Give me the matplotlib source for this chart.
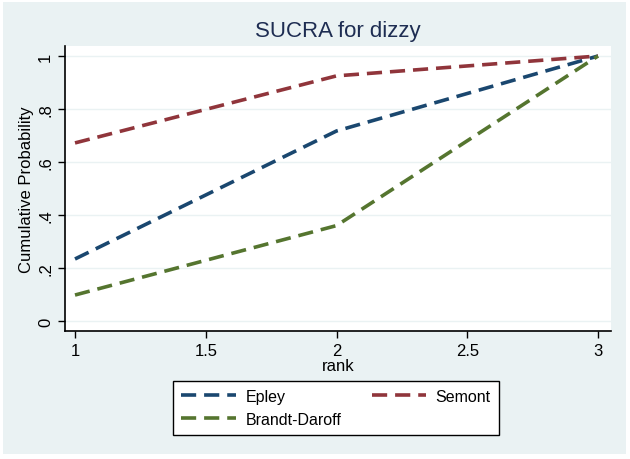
import matplotlib.pyplot as plt
from matplotlib.patches import Rectangle

ranks = [1, 2, 3]
epley = [0.234, 0.717, 1.0]
semont = [0.672, 0.925, 1.0]
brandt_daroff = [0.098, 0.360, 1.0]

y_ticks = [0, 0.2, 0.4, 0.6, 0.8, 1.0]
y_tick_labels = ["0", ".2", ".4", ".6", ".8", "1"]
x_ticks = [1, 1.5, 2, 2.5, 3]
x_tick_labels = ["1", "1.5", "2", "2.5", "3"]

plt.rcParams["font.family"] = ["Liberation Sans", "DejaVu Sans"]

fig = plt.figure(figsize=(6.3, 4.6), dpi=100)
fig.patch.set_facecolor("white")
# stata-like light background panel
fig.patches.append(Rectangle((3 / 630, 5 / 460), 623 / 630, 452 / 460,
                             transform=fig.transFigure, facecolor="#eaf2f3",
                             edgecolor="none", zorder=-10))

ax = fig.add_axes([65 / 630, 1 - 332 / 460, 546 / 630, 285 / 460])
ax.set_facecolor("white")

dash = (0, (4.2, 2.2))
ax.plot(ranks, epley, color="#1a476f", lw=2.6, linestyle=dash, label="Epley")
ax.plot(ranks, semont, color="#90353b", lw=2.6, linestyle=dash, label="Semont")
ax.plot(ranks, brandt_daroff, color="#55752f", lw=2.6, linestyle=dash,
        label="Brandt-Daroff")

ax.set_xlim(1 - 10 / 261.5, 3 + 13 / 261.5)
ax.set_ylim(-10 / 265, 1 + 10 / 265)
ax.set_yticks(y_ticks)
ax.set_yticklabels(y_tick_labels, rotation=90, va="center")
ax.set_xticks(x_ticks)
ax.set_xticklabels(x_tick_labels)
ax.tick_params(labelsize=12, length=5, width=1, color="black")
ax.grid(axis="y", color="#eaf2f3", lw=1)
ax.set_axisbelow(True)

for side in ["top", "right"]:
    ax.spines[side].set_visible(False)
for side in ["left", "bottom"]:
    ax.spines[side].set_linewidth(1.2)

ax.set_xlabel("rank", fontsize=12, labelpad=0)
ax.set_ylabel("Cumulative Probability", fontsize=12, labelpad=3)
ax.set_title("SUCRA for dizzy", fontsize=16, color="#1e2d52", pad=7)

handles, labels = ax.get_legend_handles_labels()
# legend fills column-wise: Epley, Brandt-Daroff | Semont
order = [0, 2, 1]
leg = fig.legend([handles[i] for i in order], [labels[i] for i in order],
                 loc="center", bbox_to_anchor=(336 / 630, 1 - 409 / 460),
                 ncol=2, fontsize=11.5, frameon=True, fancybox=False,
                 edgecolor="black", facecolor="white", framealpha=1,
                 handlelength=3.4, columnspacing=1.9,
                 handletextpad=0.6, borderpad=0.5, labelspacing=0.5)
leg.get_frame().set_linewidth(1.0)

fig.savefig("out.png", dpi=100)
